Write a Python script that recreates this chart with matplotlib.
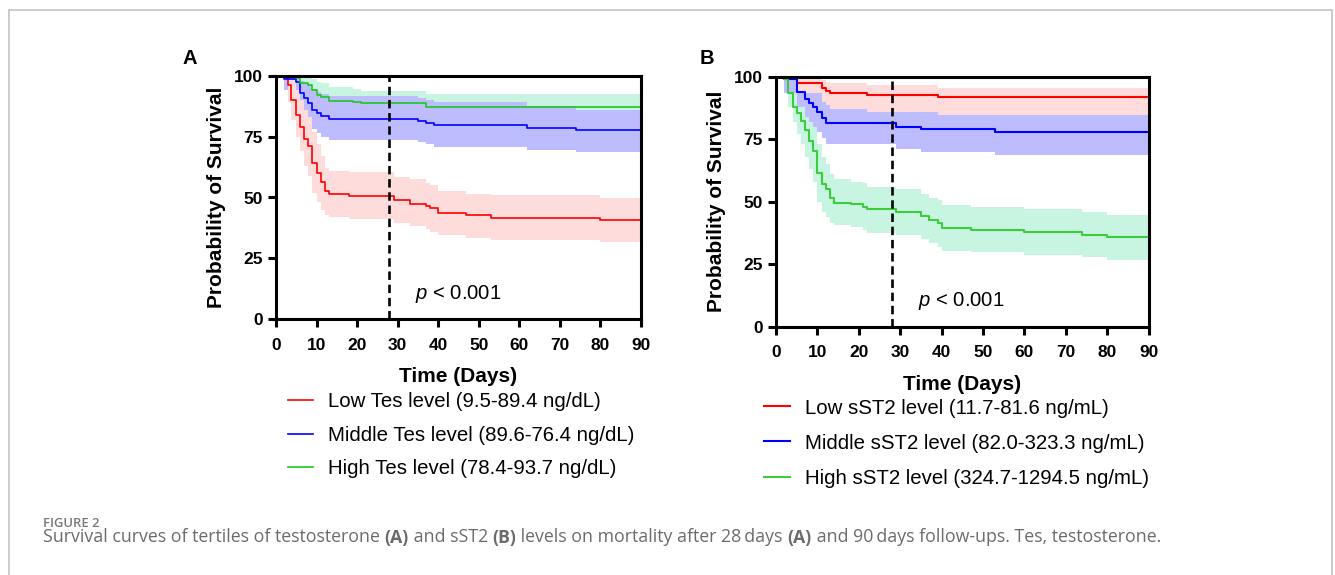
import matplotlib
matplotlib.use("Agg")
import matplotlib.pyplot as plt
from matplotlib.patches import Rectangle

plt.rcParams['font.family'] = ['Liberation Sans', 'DejaVu Sans']
plt.rcParams['mathtext.fontset'] = 'custom'
plt.rcParams['mathtext.it'] = 'Liberation Sans:italic'
plt.rcParams['mathtext.rm'] = 'Liberation Sans'

# ---------------- data: panel A (testosterone tertiles) ----------------
a_low_t = [0, 3, 3.7, 5, 6, 7, 8, 9, 10, 11, 12, 13, 18, 29, 33, 37, 38, 40, 47, 53, 80, 90]
a_low_s = [100, 96, 90, 84, 79, 74, 71, 64, 60, 56.5, 52.5, 51.5, 50.7, 49, 47.5, 46.5, 45.5, 43.5, 42.7, 41.7, 40.8, 40.8]
a_low_hi = [100, 100, 99, 94, 90, 86, 83, 77, 72, 67, 62, 61, 60.5, 58.5, 57.5, 56, 55, 52.5, 51.5, 51, 50, 50]
a_low_lo = [100, 89, 82, 75, 69, 63, 59, 52, 48, 45, 43, 42, 41, 39.5, 38.5, 37, 36, 34.5, 33.5, 32.7, 31.8, 31.8]

a_mid_t = [0, 2, 5, 6, 7, 8, 9, 10, 11, 13, 35, 37, 39, 62, 74, 90]
a_mid_s = [100, 98.8, 97.6, 92.8, 90.7, 88.6, 86, 84.5, 83.3, 82.2, 81.4, 80.5, 79.6, 78.7, 77.7, 77.7]
a_mid_hi = [100, 100, 99.5, 98, 97, 96, 94.5, 93.5, 92.5, 91.5, 91, 90, 89, 87.5, 86, 86]
a_mid_lo = [100, 94, 91.5, 86, 83, 80.5, 78, 76.5, 75, 73.8, 72.8, 71.8, 70.8, 69.6, 68.6, 68.6]

a_high_t = [0, 3, 5, 6, 8, 9, 10, 11, 13, 19, 21, 37, 90]
a_high_s = [100, 99.5, 98.9, 97.1, 96.2, 94.1, 92, 91.1, 89.7, 89.3, 88.6, 87.0, 87.0]
a_high_hi = [100, 100, 100, 99.8, 99.5, 98.5, 97.5, 96.8, 95.5, 94.5, 93.8, 92.3, 92.3]
a_high_lo = [100, 97, 95.5, 93, 91.5, 89, 86.5, 85.5, 83.5, 83, 82, 80.5, 80.5]

# ---------------- data: panel B (sST2 tertiles) ----------------
b_low_t = [0, 5, 11, 12, 13, 22, 39, 90]
b_low_s = [100, 97.3, 95.3, 94.4, 93.6, 92.7, 91.7, 91.7]
b_low_hi = [100, 99.5, 98.5, 97.8, 97.3, 96.8, 95.5, 95.5]
b_low_lo = [100, 93.5, 90, 88.5, 87, 85.7, 84.7, 84.7]

b_mid_t = [0, 2, 5, 7, 8, 9, 10, 11, 12, 29, 35, 53, 90]
b_mid_s = [100, 99, 94, 91, 89.3, 88, 86, 83.3, 81.6, 79.7, 78.9, 78, 78]
b_mid_hi = [100, 100, 99.5, 98, 97, 96, 94.5, 92, 88.5, 86.8, 86, 84.7, 84.7]
b_mid_lo = [100, 93.3, 88, 84, 82, 80, 78, 75.5, 73, 71, 70, 68.8, 68.8]

b_high_t = [0, 2, 3, 4, 5, 6, 7, 8, 9, 10, 11, 12, 13, 14, 18, 21, 22, 29, 35, 37, 39, 40, 47, 60, 74, 80, 90]
b_high_s = [100, 99, 93.3, 88, 85.3, 82.3, 78.7, 74.3, 70.4, 61.3, 57.1, 54.9, 51.3, 49.6, 49.1, 48, 47, 46, 44.3, 42.7, 41.3, 39.6, 38.7, 37.7, 36.8, 35.9, 35.9]
b_high_hi = [100, 100, 98, 96, 94, 92, 89, 85, 80, 73, 68, 65, 61, 59, 58, 57.3, 56, 55, 53, 51.5, 50.5, 48.7, 48, 47, 46, 44.8, 44.8]
b_high_lo = [100, 97, 88, 82, 77, 73, 68, 63, 58, 50, 46, 44, 41.5, 40.5, 40, 38.5, 37.3, 36.7, 35, 33.5, 32, 30.2, 29.7, 28.7, 27.7, 26.8, 26.8]

labels_a = ["Low Tes level (9.5-89.4 ng/dL)",
            "Middle Tes level (89.6-76.4 ng/dL)",
            "High Tes level (78.4-93.7 ng/dL)"]
labels_b = ["Low sST2 level (11.7-81.6 ng/mL)",
            "Middle sST2 level (82.0-323.3 ng/mL)",
            "High sST2 level (324.7-1294.5 ng/mL)"]
cutoff_day = 28
x_ticks = [0, 10, 20, 30, 40, 50, 60, 70, 80, 90]
y_ticks = [0, 25, 50, 75, 100]

line_colors = ['#ff0000', '#0000ff', '#22c322']
fill_colors = ['#ffdcdc', '#bcbcff', '#c8f5e2']

W, H = 1335, 575
fig = plt.figure(figsize=(W / 100, H / 100), dpi=100)

axA = fig.add_axes([276 / W, 1 - 319.3 / H, (640.7 - 276) / W, (319.3 - 75.7) / H])
axB = fig.add_axes([776 / W, 1 - 326.7 / H, (1148.7 - 776) / W, (326.7 - 76.7) / H])


def draw_panel(ax, series, labels, lw, green):
    cols = [line_colors[0], line_colors[1], green]
    for idx in [2, 1, 0]:
        t, s, hi, lo = series[idx]
        ax.fill_between(t, lo, hi, step='post', color=fill_colors[idx], lw=0, zorder=1)
    handles = []
    for idx in [0, 1, 2]:
        t, s, hi, lo = series[idx]
        ln, = ax.step(t, s, where='post', color=cols[idx], lw=lw, zorder=3, label=labels[idx])
        handles.append(ln)
    ax.vlines(cutoff_day, 0, 100, colors='black', linestyles=(0, (3.2, 1.8)), lw=1.9, zorder=4)
    ax.set_xlim(0, 90)
    ax.set_ylim(0, 100)
    ax.set_xticks(x_ticks)
    ax.set_yticks(y_ticks)
    for sp in ax.spines.values():
        sp.set_linewidth(2.2)
        sp.set_zorder(5)
    ax.tick_params(axis='both', direction='out', length=5.8, width=2.2, labelsize=12.5)
    ax.tick_params(axis='x', pad=7.5)
    ax.tick_params(axis='y', pad=3.6)
    for lab in ax.get_xticklabels() + ax.get_yticklabels():
        lab.set_fontweight('bold')
    ax.set_xlabel('Time (Days)', fontsize=15, fontweight='bold', labelpad=10.5)
    ax.set_ylabel('Probability of Survival', fontsize=15, fontweight='bold', labelpad=6)
    ax.text(34.3, 10.2, r'$p$ < 0.001', fontsize=14.6, va='center', ha='left', zorder=6)
    return handles


hA = draw_panel(axA, [(a_low_t, a_low_s, a_low_hi, a_low_lo),
                      (a_mid_t, a_mid_s, a_mid_hi, a_mid_lo),
                      (a_high_t, a_high_s, a_high_hi, a_high_lo)], labels_a, 1.2, '#1ec81e')
hB = draw_panel(axB, [(b_low_t, b_low_s, b_low_hi, b_low_lo),
                      (b_mid_t, b_mid_s, b_mid_hi, b_mid_lo),
                      (b_high_t, b_high_s, b_high_hi, b_high_lo)], labels_b, 1.5, '#3ccc3c')

fig.legend(handles=hA, labels=labels_a, loc='upper left', bbox_to_anchor=(288 / W, 1 - 392 / H),
           frameon=False, fontsize=14.7, handlelength=1.23, handletextpad=0.74,
           labelspacing=0.72, borderpad=0, borderaxespad=0)
fig.legend(handles=hB, labels=labels_b, loc='upper left', bbox_to_anchor=(764 / W, 1 - 398.5 / H),
           frameon=False, fontsize=14.7, handlelength=1.27, handletextpad=0.74,
           labelspacing=0.79, borderpad=0, borderaxespad=0)

fig.text(190 / W, 1 - 59 / H, 'A', fontsize=14.5, fontweight='bold', ha='center', va='center')
fig.text(707 / W, 1 - 59 / H, 'B', fontsize=14.5, fontweight='bold', ha='center', va='center')

# outer frame
fig.patches.append(Rectangle((9 / W, -0.2), (1332 - 9) / W, 1.2 - 10 / H,
                             transform=fig.transFigure, fill=False, ec='#bdbdbd', lw=1.1,
                             clip_on=False))

# caption
cap_font = ['Open Sans', 'DejaVu Sans']
fig.text(43 / W, 1 - 526.7 / H, 'FIGURE 2', fontsize=9.4, fontweight='semibold',
         color='#777777', family=cap_font, va='baseline', ha='left')

pieces = [("Survival curves of tertiles of testosterone ", 'normal'), ("(A)", 'bold'),
          (" and sST2 ", 'normal'), ("(B)", 'bold'),
          (" levels on mortality after 28\u2009days ", 'normal'), ("(A)", 'bold'),
          (" and 90\u2009days follow-ups. Tes, testosterone.", 'normal')]
fig.canvas.draw()
renderer = fig.canvas.get_renderer()
xpos = 43 / W
for txt, wt in pieces:
    tt = fig.text(xpos, 1 - 542.5 / H, txt, fontsize=12.8, fontweight=wt, color='#6b6b6b',
                  family=cap_font, va='baseline', ha='left')
    bb = tt.get_window_extent(renderer=renderer)
    xpos += bb.width / W

fig.savefig('out.png', dpi=100)
